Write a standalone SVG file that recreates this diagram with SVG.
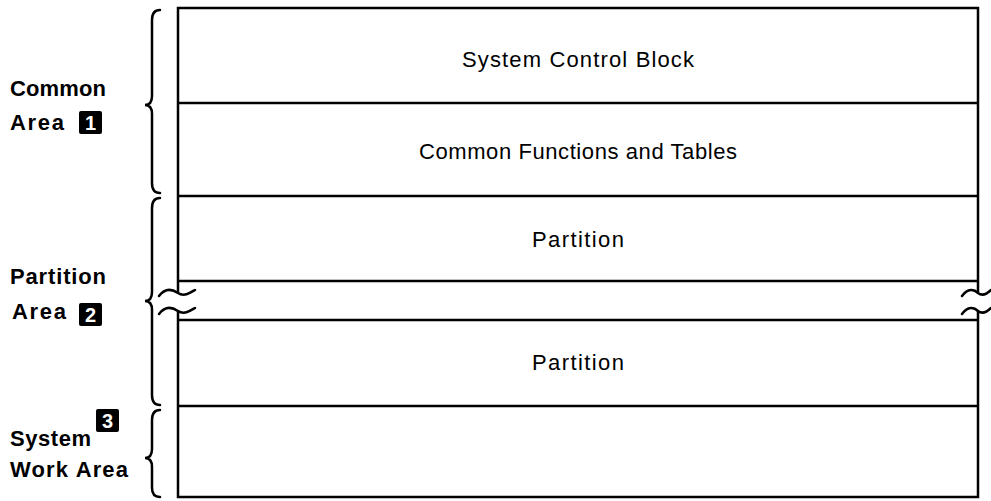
<svg xmlns="http://www.w3.org/2000/svg" width="991" height="501" viewBox="0 0 991 501">
<style>
.ln{stroke:#000;fill:none;stroke-width:2.5}
.br{stroke:#000;fill:none;stroke-width:2.5;stroke-linecap:round}
.ct{font-family:"Liberation Sans",Arial,sans-serif;font-size:22px;fill:#000;text-anchor:middle}
.lb{font-family:"Liberation Sans",Arial,sans-serif;font-size:22px;font-weight:bold;fill:#000}
.bd{fill:#000}
.bn{font-family:"Liberation Sans",Arial,sans-serif;font-size:20px;font-weight:bold;fill:#fff;text-anchor:middle}
</style>
<rect width="991" height="501" fill="#fff"/>
<g id="connectors">
<path class="br" d="M160,10 Q152,10 152,20 L152,96 Q152,105 145,105 Q152,105 152,114 L152,183 Q152,193 160,193"/>
<path class="br" d="M160,198 Q152,198 152,208 L152,292 Q152,301 145,301 Q152,301 152,310 L152,395 Q152,405 160,405"/>
<path class="br" d="M160,410 Q152,410 152,420 L152,449 Q152,458 145,458 Q152,458 152,467 L152,488 Q152,497 160,497"/>
</g>
<g id="memory">
<path class="ln" d="M178,292 L178,8 L978,8 L978,292"/>
<path class="ln" d="M178,311 L178,497 L978,497 L978,311"/>
<line class="ln" x1="178" y1="103" x2="978" y2="103"/>
<line class="ln" x1="178" y1="196" x2="978" y2="196"/>
<line class="ln" x1="178" y1="281" x2="978" y2="281"/>
<line class="ln" x1="178" y1="320" x2="978" y2="320"/>
<line class="ln" x1="178" y1="406" x2="978" y2="406"/>
<path class="br" d="M159,296 C165,288 172,289 178,293 C184,297 190,293 195,290"/>
<path class="br" d="M159,314 C165,306 172,307 178,311 C184,315 190,311 195,308"/>
<path class="br" d="M962,296 C968,288 974,289 978,293 C983,297 988,293 991,290"/>
<path class="br" d="M962,314 C968,306 974,307 978,311 C983,315 988,311 991,308"/>
</g>
<g id="scb"><text class="ct" x="578" y="67" textLength="232" lengthAdjust="spacing">System Control Block</text></g>
<g id="cft"><text class="ct" x="578" y="159" textLength="318" lengthAdjust="spacing">Common Functions and Tables</text></g>
<g id="partition1"><text class="ct" x="578" y="247" textLength="92" lengthAdjust="spacing">Partition</text></g>
<g id="partition2"><text class="ct" x="578" y="370" textLength="92" lengthAdjust="spacing">Partition</text></g>
<g id="sysarea"><rect x="178" y="406" width="800" height="91" fill="none"/></g>
<g id="common-label">
<text class="lb" x="10" y="96" textLength="96" lengthAdjust="spacing">Common</text>
<text class="lb" x="10" y="130" textLength="54" lengthAdjust="spacing">Area</text>
<rect class="bd" x="79" y="111" width="23" height="23" rx="2"/>
<text class="bn" x="90.5" y="130">1</text>
</g>
<g id="partition-label">
<text class="lb" x="10" y="284" textLength="96" lengthAdjust="spacing">Partition</text>
<text class="lb" x="12" y="319" textLength="54" lengthAdjust="spacing">Area</text>
<rect class="bd" x="79" y="303" width="23" height="23" rx="2"/>
<text class="bn" x="90.5" y="322">2</text>
</g>
<g id="system-label">
<text class="lb" x="10" y="446" textLength="81" lengthAdjust="spacing">System</text>
<text class="lb" x="10" y="477" textLength="118" lengthAdjust="spacing">Work Area</text>
<rect class="bd" x="96" y="409" width="23" height="23" rx="2"/>
<text class="bn" x="107.5" y="428">3</text>
</g>
</svg>
